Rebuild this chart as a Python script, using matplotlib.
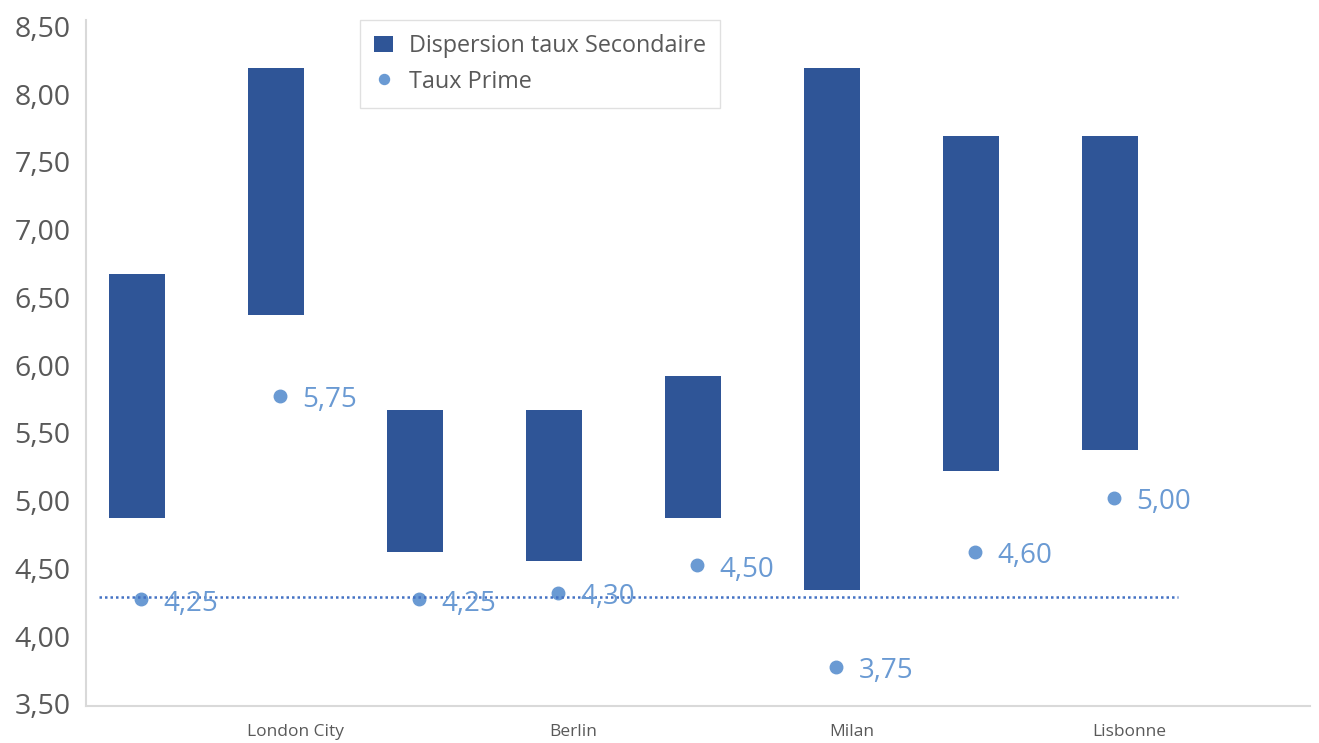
import numpy as np
import matplotlib.pyplot as plt
from matplotlib.transforms import ScaledTranslation

plt.rcParams['font.family'] = ['Open Sans', 'DejaVu Sans']

# bars: low / high of the secondary rate spread
sec_low = [4.85, 6.35, 4.60, 4.53, 4.85, 4.32, 5.20, 5.35]
sec_high = [6.65, 8.17, 5.65, 5.65, 5.90, 8.17, 7.67, 7.67]
# prime rate points
prime = [4.25, 5.75, 4.25, 4.30, 4.50, 3.75, 4.60, 5.00]
prime_labels = ["4,25", "5,75", "4,25", "4,30", "4,50", "3,75", "4,60", "5,00"]
ref_level = 4.27
cat_labels = ["London City", "Berlin", "Milan", "Lisbonne"]
y_ticks = [3.5, 4.0, 4.5, 5.0, 5.5, 6.0, 6.5, 7.0, 7.5, 8.0, 8.5]

bar_col = "#2F5597"
dot_col = "#6A9AD3"

fig = plt.figure(figsize=(13.19, 7.43), dpi=100)
ax = fig.add_axes([0.0652, 0.0498, 0.928, 0.9233])

x = np.arange(len(sec_low))
heights = [h - l for h, l in zip(sec_high, sec_low)]
bars = ax.bar(x, heights, bottom=sec_low, width=0.40, color=bar_col,
              label="Dispersion taux Secondaire")

xd = x + 0.03
pts, = ax.plot(xd, prime, 'o', color=dot_col, markersize=9, linestyle='none',
               label="Taux Prime")
for xi, yi, t in zip(xd, prime, prime_labels):
    ax.annotate(t, (xi, yi), xytext=(16, -3), textcoords='offset points',
                ha='left', va='center', fontsize=20, color=dot_col)

ax.plot([-0.27, 7.49], [ref_level, ref_level], linestyle=(0, (1, 1.2)),
        color="#4472C4", linewidth=1.8)

ax.set_xlim(-0.367, 8.44)
ax.set_ylim(3.463, 8.525)
ax.set_yticks(y_ticks)
ax.set_yticklabels([f"{v:.2f}".replace(".", ",") for v in y_ticks])
ax.set_xticks([1.14, 3.14, 5.14, 7.14])
ax.set_xticklabels(cat_labels)
ax.tick_params(axis='y', length=0, pad=11, labelsize=20.5, labelcolor="#595959")
ax.tick_params(axis='x', length=0, pad=13, labelsize=12.5, labelcolor="#595959")
off = ScaledTranslation(0, -3 / 100, fig.dpi_scale_trans)
for lab in ax.get_yticklabels():
    lab.set_transform(lab.get_transform() + off)

for s in ['top', 'right']:
    ax.spines[s].set_visible(False)
for s in ['left', 'bottom']:
    ax.spines[s].set_color("#D9D9D9")
    ax.spines[s].set_linewidth(1.5)

leg = ax.legend([bars, pts], ["Dispersion taux Secondaire", "Taux Prime"],
                loc='upper left', bbox_to_anchor=(0.224, 1.0), fontsize=16.8,
                frameon=True, fancybox=False, edgecolor="#D9D9D9",
                borderaxespad=0, handlelength=0.8, handletextpad=0.7,
                borderpad=0.6, labelspacing=0.5, markerscale=0.8)
for t in leg.get_texts():
    t.set_color("#595959")

fig.savefig("out.png", dpi=100)
